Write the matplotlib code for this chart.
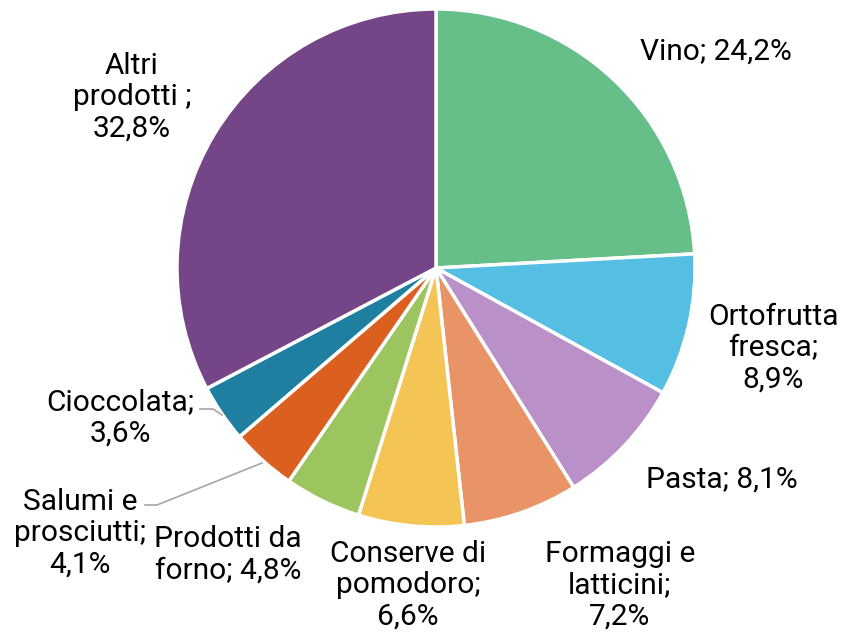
import matplotlib
matplotlib.use("Agg")
import matplotlib.pyplot as plt

categories = ["Vino", "Ortofrutta fresca", "Pasta", "Formaggi e latticini",
              "Conserve di pomodoro", "Prodotti da forno", "Salumi e prosciutti",
              "Cioccolata", "Altri prodotti"]
values = [24.2, 8.9, 8.1, 7.2, 6.6, 4.8, 4.1, 3.6, 32.8]
labels = ["Vino; 24,2%", "Ortofrutta\nfresca;\n8,9%", "Pasta; 8,1%",
          "Formaggi e\nlatticini;\n7,2%", "Conserve di\npomodoro;\n6,6%",
          "Prodotti da\nforno; 4,8%", "Salumi e\nprosciutti;\n4,1%",
          "Cioccolata;\n3,6%", "Altri\nprodotti ;\n32,8%"]
colors = ["#66BF88", "#55BFE3", "#B991C8", "#E99467", "#F4C454",
          "#9DC55F", "#DB6020", "#1E7FA1", "#744688"]

W, H = 844, 637
CX, CY, R = 436, 268, 259

def px(x, y):
    return (x - CX) / R, (CY - y) / R

fig = plt.figure(figsize=(W / 100, H / 100), dpi=100)
ax = fig.add_axes([0, 0, 1, 1])

ax.pie(values, colors=colors, startangle=90, counterclock=False, radius=1,
       wedgeprops=dict(edgecolor="white", linewidth=2.5))
ax.set_aspect("auto")
ax.set_xlim(-CX / R, (W - CX) / R)
ax.set_ylim(-(H - CY) / R, CY / R)
ax.axis("off")

label_pos = [(716, 52), (773, 348), (722, 480), (620, 585), (408, 585),
             (228, 555), (80, 533), (120, 418), (132, 97)]
for lab, (x, y) in zip(labels, label_pos):
    ax.text(*px(x, y), lab, ha="center", va="center", fontsize=21.5,
            family="Roboto", linespacing=1.15, color="black")

# leader lines
for pts in ([(200, 409), (213, 409), (222, 415)],
            [(145, 505), (157, 505), (262, 463)]):
    xs, ys = zip(*[px(x, y) for x, y in pts])
    ax.plot(xs, ys, color="#A6A6A6", lw=1.2)

fig.savefig("out.png", dpi=100)
